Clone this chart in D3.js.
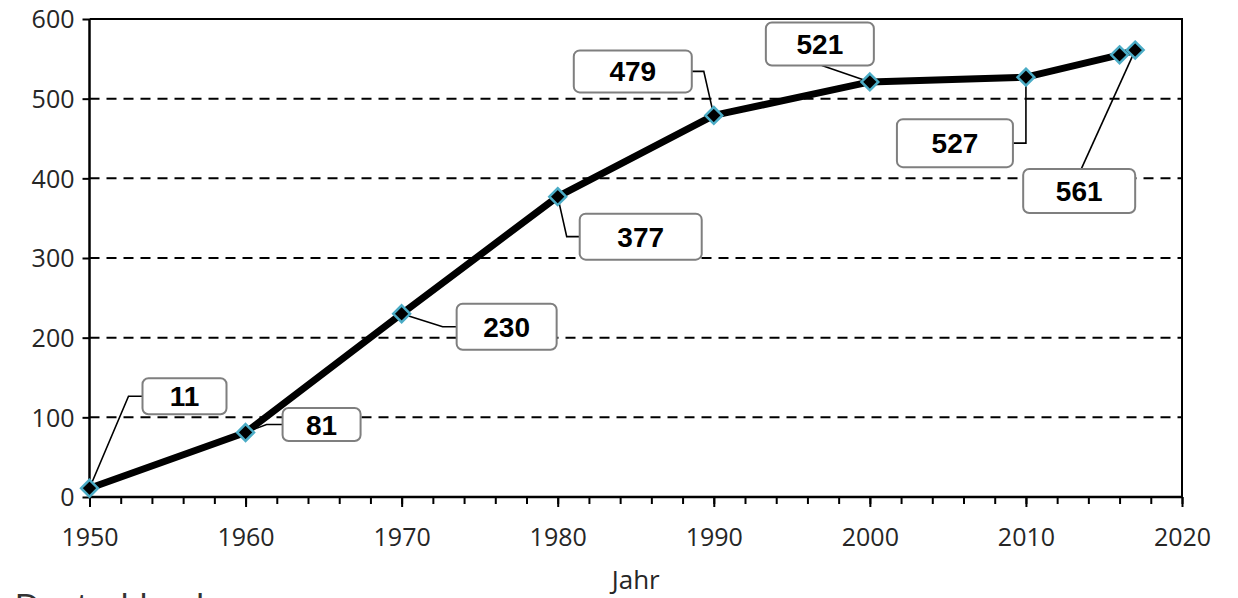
<!DOCTYPE html>
<html>
<head>
<meta charset="utf-8">
<script src="https://cdn.jsdelivr.net/npm/d3@7"></script>
<style>
  html, body { margin: 0; padding: 0; background: #fff; overflow: hidden; }
  svg { display: block; }
</style>
</head>
<body>
<svg id="chart" width="1238" height="598"></svg>
<script>
// Population series (Jahr / value)
const years  = [1950, 1960, 1970, 1980, 1990, 2000, 2010, 2016, 2017];
const values = [11, 81, 230, 377, 479, 521, 527, 555, 561];

// Axis ticks
const yTicks = [0, 100, 200, 300, 400, 500, 600];
const xMajorTicks = [1950, 1960, 1970, 1980, 1990, 2000, 2010, 2020];
const xMinorTicks = d3.range(1950, 2021, 2);

// Which points carry a value box
const labelledYears = [1950, 1960, 1970, 1980, 1990, 2000, 2010, 2017];

// Box placement relative to its point (layout only)
const labelLayout = {
  1950: { dx: 95,  dy: -92, w: 84,  h: 36, side: "left",   e: 14 },
  1960: { dx: 76,  dy: -8,  w: 78,  h: 33, side: "left",   e: 16 },
  1970: { dx: 105, dy: 13,  w: 100, h: 46, side: "left",   e: 14 },
  1980: { dx: 83,  dy: 40,  w: 122, h: 46, side: "left",   e: 13 },
  1990: { dx: -81, dy: -44, w: 118, h: 42, side: "right",  e: 12 },
  2000: { dx: -50, dy: -38, w: 108, h: 43, side: "bottom", e: 0 },
  2010: { dx: -71, dy: 66,  w: 116, h: 48, side: "right",  e: 13 },
  2017: { dx: -56, dy: 141, w: 112, h: 44, side: "top",    e: 0 }
};

const data = years.map((yr, i) => ({ year: yr, value: values[i] }));

const svg = d3.select("#chart");
const x = d3.scaleLinear().domain([1950, 2020]).range([89.5, 1182]);
const y = d3.scaleLinear().domain([0, 600]).range([497, 19]);

const tickFont = "'Open Sans', 'DejaVu Sans', sans-serif";
const textColor = "#262626";

// Dashed horizontal gridlines
svg.append("g")
  .selectAll("line")
  .data(yTicks.filter(t => t > 0 && t < 600))
  .join("line")
  .attr("x1", x(1950)).attr("x2", x(2020))
  .attr("y1", d => y(d)).attr("y2", d => y(d))
  .attr("stroke", "#000").attr("stroke-width", 2)
  .attr("stroke-dasharray", "10,7");

// Frame: top and right edges
svg.append("path")
  .attr("d", `M${x(1950)},${y(600)}H${x(2020)}V${y(0)}`)
  .attr("fill", "none").attr("stroke", "#000").attr("stroke-width", 2);

// Y axis
const yAxis = svg.append("g")
  .attr("transform", `translate(${x(1950)},0)`)
  .call(d3.axisLeft(y).tickValues(yTicks).tickSize(7).tickPadding(8).tickFormat(d3.format("d")));
yAxis.select(".domain").attr("stroke", "#000").attr("stroke-width", 2.5)
  .attr("d", `M0,${y(600)}V${y(0)}`);
yAxis.selectAll(".tick line").attr("stroke", "#000").attr("stroke-width", 2);
yAxis.selectAll(".tick text")
  .attr("font-family", tickFont).attr("font-size", 25).attr("fill", textColor)
  .attr("dy", "0.35em");

// X axis: minor ticks
const xMinor = svg.append("g")
  .attr("transform", `translate(0,${y(0)})`)
  .call(d3.axisBottom(x).tickValues(xMinorTicks).tickSize(7).tickFormat(""));
xMinor.select(".domain").remove();
xMinor.selectAll(".tick line").attr("stroke", "#000").attr("stroke-width", 2);

// X axis: major ticks and labels
const xAxis = svg.append("g")
  .attr("transform", `translate(0,${y(0)})`)
  .call(d3.axisBottom(x).tickValues(xMajorTicks).tickSize(10).tickPadding(21).tickFormat(d3.format("d")));
xAxis.select(".domain").attr("stroke", "#000").attr("stroke-width", 2.5)
  .attr("d", `M${x(1950)},0H${x(2020)}`);
xAxis.selectAll(".tick line").attr("stroke", "#000").attr("stroke-width", 2);
xAxis.selectAll(".tick text")
  .attr("font-family", tickFont).attr("font-size", 25).attr("fill", textColor);

// Axis title
svg.append("text")
  .attr("x", (x(1950) + x(2020)) / 2).attr("y", 589)
  .attr("text-anchor", "middle")
  .attr("font-family", tickFont).attr("font-size", 26).attr("fill", textColor)
  .text("Jahr");

// Caption below the chart
svg.append("text")
  .attr("x", 15).attr("y", 617)
  .attr("font-family", "'Liberation Sans', Arial, sans-serif").attr("font-size", 34)
  .attr("fill", "#333")
  .text("Deutschland");

// Label geometry
const labels = data.filter(d => labelledYears.includes(d.year)).map(d => {
  const L = labelLayout[d.year];
  const px = x(d.year), py = y(d.value);
  const cx = px + L.dx, cy = py + L.dy;
  return { ...d, L, px, py, cx, cy };
});

function leaderPath(d) {
  const { L, px, py, cx, cy } = d;
  const left = cx - L.w / 2, right = cx + L.w / 2;
  if (L.side === "left")  return `M${left},${cy}H${left - L.e}L${px},${py}`;
  if (L.side === "right") return `M${right},${cy}H${right + L.e}L${px},${py}`;
  if (L.side === "bottom") return `M${cx + 2},${cy + L.h / 2}L${px},${py}`;
  return `M${cx + 2},${cy - L.h / 2}L${px},${py}`;
}

// Leader lines
svg.append("g")
  .selectAll("path")
  .data(labels)
  .join("path")
  .attr("d", leaderPath)
  .attr("fill", "none").attr("stroke", "#000").attr("stroke-width", 1.6);

// Series line
svg.append("path")
  .datum(data)
  .attr("d", d3.line().x(d => x(d.year)).y(d => y(d.value)))
  .attr("fill", "none").attr("stroke", "#000").attr("stroke-width", 7)
  .attr("stroke-linejoin", "round");

// Diamond markers
const diamond = d3.symbol().type(d3.symbolDiamond2).size(180);
svg.append("g")
  .selectAll("path")
  .data(data)
  .join("path")
  .attr("transform", d => `translate(${x(d.year)},${y(d.value)})`)
  .attr("d", diamond)
  .attr("fill", "#000").attr("stroke", "#4bacc6").attr("stroke-width", 2.5);

// Value boxes
const box = svg.append("g")
  .selectAll("g")
  .data(labels)
  .join("g")
  .attr("transform", d => `translate(${d.cx},${d.cy})`);
box.append("rect")
  .attr("x", d => -d.L.w / 2).attr("y", d => -d.L.h / 2)
  .attr("width", d => d.L.w).attr("height", d => d.L.h)
  .attr("rx", 6).attr("ry", 6)
  .attr("fill", "#fff").attr("stroke", "#7f7f7f").attr("stroke-width", 2);
box.append("text")
  .attr("text-anchor", "middle").attr("dy", "0.36em")
  .attr("font-family", "'Liberation Sans', Arial, sans-serif")
  .attr("font-weight", "bold").attr("font-size", 28).attr("fill", "#000")
  .text(d => d.value);
</script>
</body>
</html>
